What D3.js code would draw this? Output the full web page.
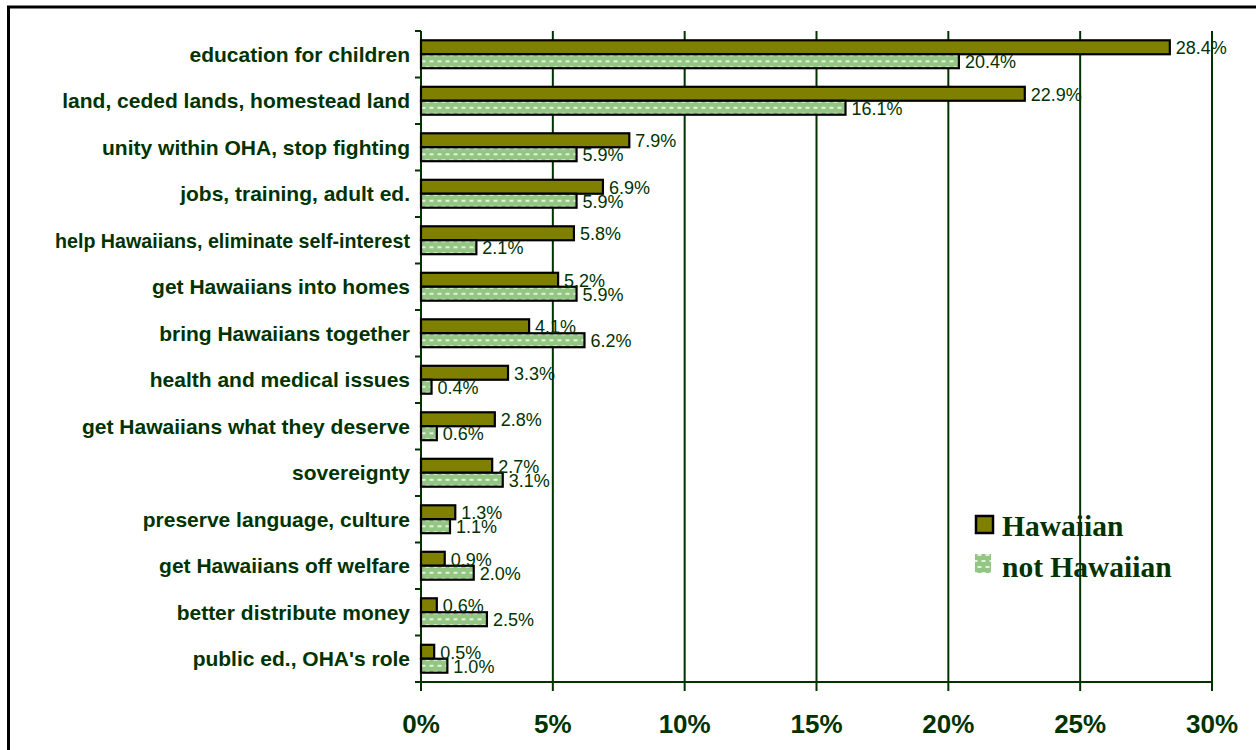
<!DOCTYPE html>
<html>
<head>
<meta charset="utf-8">
<script src="https://cdn.jsdelivr.net/npm/d3@7"></script>
<style>
  html, body { margin: 0; padding: 0; background: #fff; }
  svg { display: block; }
</style>
</head>
<body>
<svg id="chart" width="1256" height="750"></svg>
<script>
// Priorities mentioned, by respondent group (percent)
const categories = [
  "education for children",
  "land, ceded lands, homestead land",
  "unity within OHA, stop fighting",
  "jobs, training, adult ed.",
  "help Hawaiians, eliminate self-interest",
  "get Hawaiians into homes",
  "bring Hawaiians together",
  "health and medical issues",
  "get Hawaiians what they deserve",
  "sovereignty",
  "preserve language, culture",
  "get Hawaiians off welfare",
  "better distribute money",
  "public ed., OHA's role"
];
const hawaiian    = [28.4, 22.9, 7.9, 6.9, 5.8, 5.2, 4.1, 3.3, 2.8, 2.7, 1.3, 0.9, 0.6, 0.5];
const notHawaiian = [20.4, 16.1, 5.9, 5.9, 2.1, 5.9, 6.2, 0.4, 0.6, 3.1, 1.1, 2.0, 2.5, 1.0];
const seriesNames = ["Hawaiian", "not Hawaiian"];
const tickValues  = [0, 5, 10, 15, 20, 25, 30];

const svg = d3.select("#chart");
const dark = "#003300";
const plot = { left: 421, right: 1212, top: 31, bottom: 682 };

// Checkered light-green fill for the second series
const defs = svg.append("defs");
const pat = defs.append("pattern")
  .attr("id", "dots").attr("patternUnits", "userSpaceOnUse")
  .attr("width", 8).attr("height", 12);
pat.append("rect").attr("width", 8).attr("height", 12).attr("fill", "#94c683");
pat.append("rect").attr("x", 1.5).attr("y", 2).attr("width", 4).attr("height", 2).attr("fill", "#e4f1dc");
pat.append("rect").attr("x", 5.5).attr("y", 8).attr("width", 4).attr("height", 2).attr("fill", "#e4f1dc");
pat.append("rect").attr("x", -2.5).attr("y", 8).attr("width", 4).attr("height", 2).attr("fill", "#e4f1dc");

const x = d3.scaleLinear().domain([0, 30]).range([plot.left, plot.right]);
const y = d3.scaleBand().domain(categories).range([plot.top, plot.bottom])
  .paddingInner(0.4).paddingOuter(0.2);
const ySub = d3.scaleBand().domain(seriesNames).range([0, y.bandwidth()]);
const fills = { "Hawaiian": "#808000", "not Hawaiian": "url(#dots)" };

// Outer frame
svg.append("rect")
  .attr("x", 8.5).attr("y", 7).attr("width", 1300).attr("height", 800)
  .attr("fill", "none").attr("stroke", "#000").attr("stroke-width", 3);

// Vertical gridlines with tick extensions below the axis
svg.append("g").selectAll("line").data(tickValues.slice(1)).join("line")
  .attr("x1", d => x(d)).attr("x2", d => x(d))
  .attr("y1", plot.top).attr("y2", plot.bottom + 9)
  .attr("stroke", dark).attr("stroke-width", 2);

// Category axis: line plus boundary ticks
const step = y.step();
const bounds = d3.range(categories.length + 1).map(i => plot.top + i * step);
svg.append("line")
  .attr("x1", plot.left).attr("x2", plot.left)
  .attr("y1", plot.top).attr("y2", plot.bottom + 9)
  .attr("stroke", dark).attr("stroke-width", 2);
svg.append("g").selectAll("line").data(bounds).join("line")
  .attr("x1", plot.left - 6).attr("x2", plot.left)
  .attr("y1", d => d).attr("y2", d => d)
  .attr("stroke", dark).attr("stroke-width", 2);
svg.append("line")
  .attr("x1", plot.left).attr("x2", plot.right)
  .attr("y1", plot.bottom).attr("y2", plot.bottom)
  .attr("stroke", dark).attr("stroke-width", 2);

// Category labels, squeezed when wider than the label column
const maxLabelWidth = 355;
svg.append("g").selectAll("text").data(categories).join("text")
  .attr("x", 410).attr("y", d => y(d) + y.bandwidth() / 2 + 7.5)
  .attr("text-anchor", "end")
  .attr("font-family", "Liberation Sans, Arial, sans-serif")
  .attr("font-weight", "bold").attr("font-size", 21)
  .attr("fill", dark).text(d => d)
  .each(function () {
    if (this.getComputedTextLength() > maxLabelWidth) {
      d3.select(this).attr("textLength", maxLabelWidth).attr("lengthAdjust", "spacingAndGlyphs");
    }
  });

// Percentage tick labels
svg.append("g").selectAll("text").data(tickValues).join("text")
  .attr("x", d => x(d)).attr("y", 733)
  .attr("text-anchor", "middle")
  .attr("font-family", "Liberation Sans, Arial, sans-serif")
  .attr("font-weight", "bold").attr("font-size", 26)
  .attr("fill", dark).text(d => d + "%");

// Bars
const rows = categories.map((c, i) => ({
  cat: c,
  vals: [{ s: "Hawaiian", v: hawaiian[i] }, { s: "not Hawaiian", v: notHawaiian[i] }]
}));
const g = svg.append("g").selectAll("g").data(rows).join("g")
  .attr("transform", d => `translate(0,${y(d.cat)})`);
g.selectAll("rect").data(d => d.vals).join("rect")
  .attr("x", x(0)).attr("y", d => ySub(d.s))
  .attr("width", d => x(d.v) - x(0)).attr("height", ySub.bandwidth())
  .attr("fill", d => fills[d.s]).attr("stroke", "#000").attr("stroke-width", 2.2);
g.selectAll("text").data(d => d.vals).join("text")
  .attr("x", d => x(d.v) + 6).attr("y", d => ySub(d.s) + ySub.bandwidth() / 2 + 7)
  .attr("font-family", "Liberation Sans, Arial, sans-serif")
  .attr("font-size", 18).attr("fill", dark)
  .text(d => d.v.toFixed(1) + "%");

// Legend
const legend = svg.append("g");
legend.append("rect").attr("x", 976).attr("y", 516).attr("width", 17).attr("height", 17)
  .attr("fill", fills["Hawaiian"]).attr("stroke", "#000").attr("stroke-width", 2.5);
legend.append("rect").attr("x", 975).attr("y", 554).attr("width", 16).attr("height", 19)
  .attr("fill", fills["not Hawaiian"]);
legend.selectAll("text").data(seriesNames).join("text")
  .attr("x", 1002).attr("y", (d, i) => 536 + i * 41)
  .attr("font-family", "Liberation Serif, Times New Roman, serif")
  .attr("font-weight", "bold").attr("font-size", 29.5)
  .attr("fill", dark).text(d => d);
</script>
</body>
</html>
